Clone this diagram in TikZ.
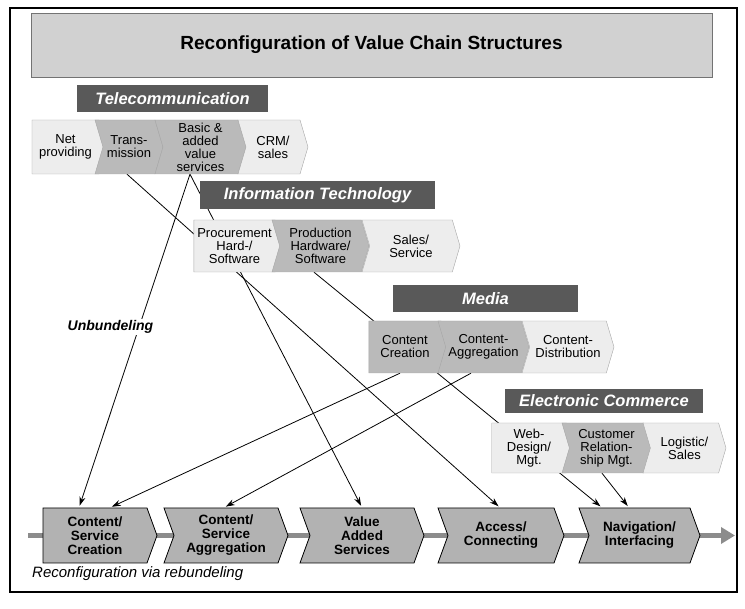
\documentclass[tikz,border=0pt]{standalone}
\usepackage{fontspec}
\setmainfont{Liberation Sans}
\usetikzlibrary{shapes.symbols,arrows.meta,backgrounds}
\tikzset{flow/.style = {draw=black, line width=0.8pt, -{Stealth[length=9pt,width=6pt]}, shorten >=2pt}}
\tikzset{header/.style = {fill=black!65, text=white, inner sep=0, font={\fontsize{16.5}{18}\selectfont\bfseries\itshape}}}
\tikzset{note/.style = {inner sep=1pt, font={\fontsize{15}{17}\selectfont\itshape}}}

\begin{document}
\begin{tikzpicture}[x=1pt,y=-1pt,
    seg/.style={shape=signal, signal to=east, signal from=west,
        signal pointer angle=147, draw=black!35, fill=black!7,
        inner sep=1pt, align=center, font={\fontsize{13}{13}\selectfont}},
    darkseg/.style={seg, fill=black!27},
    stage/.style={shape=signal, signal to=east, signal from=west,
        signal pointer angle=140, draw=black, line width=0.8pt, fill=black!30,
        minimum height=55, inner sep=1pt, align=center,
        font={\fontsize{13.5}{14}\selectfont\bfseries}},
    ]
    \useasboundingbox (0,0) rectangle (745,609);

    % Frame and title
    \draw[line width=1.2pt] (10,8) rectangle (737,592);
    \node[draw=black!55, fill=black!18, minimum width=681, minimum height=64,
        font={\fontsize{19}{22}\selectfont\bfseries}] (title) at (371.5,45)
        {Reconfiguration of Value Chain Structures};

    % Telecommunication
    \node[header, minimum width=191, minimum height=27] (tele) at (172.5,98.5) {Telecommunication};
    \node[seg, signal from=nowhere, minimum width=75, minimum height=54] (net) at (65.5,147) {Net\\providing};
    \node[darkseg, minimum width=68, minimum height=54] (trans) at (129,147) {Trans-\\mission};
    \node[darkseg, minimum width=91, minimum height=54] (basic) at (200.5,147) {Basic \&\\added\\value\\services};
    \node[seg, minimum width=70, minimum height=54] (crm) at (273,147) {CRM/\\sales};

    % Information Technology
    \node[header, minimum width=235, minimum height=28] (it) at (317.5,195) {Information Technology};
    \node[seg, signal from=nowhere, minimum width=89, minimum height=52] (proc) at (234.5,246) {Procurement\\Hard-/\\Software};
    \node[darkseg, minimum width=97, minimum height=52] (prod) at (320.5,246) {Production\\Hardware/\\Software};
    \node[seg, minimum width=98, minimum height=52] (sales) at (411,246) {Sales/\\Service};

    % Media
    \node[header, minimum width=185, minimum height=27] (media) at (485.5,298.5) {Media};
    \node[darkseg, signal from=nowhere, minimum width=80, minimum height=52] (ccre) at (405,347) {Content\\Creation};
    \node[darkseg, minimum width=91, minimum height=52] (cagg) at (483.5,347) {Content-\\Aggregation};
    \node[seg, minimum width=92, minimum height=52] (cdis) at (568,347) {Content-\\Distribution};

    % Electronic Commerce
    \node[header, minimum width=198, minimum height=24] (ec) at (604,401) {Electronic Commerce};
    \node[seg, signal from=nowhere, minimum width=82, minimum height=50] (web) at (529,448) {Web-\\Design/\\Mgt.};
    \node[darkseg, minimum width=89, minimum height=50] (cust) at (606.5,448) {Customer\\Relation-\\ship Mgt.};
    \node[seg, minimum width=83, minimum height=50] (logi) at (684.5,448) {Logistic/\\Sales};

    % Rebundled chain
    \draw[line width=4.5pt, black!45, -{Triangle[length=14pt,width=16pt]}] (28,535.5) -- (735,535.5);
    \node[stage, signal from=nowhere, minimum width=114] (cscre) at (95,535.5) {Content/\\Service\\Creation};
    \node[stage, minimum width=124] (csagg) at (226,535.5) {Content/\\Service\\Aggregation};
    \node[stage, minimum width=124] (vas) at (362,535.5) {Value\\Added\\Services};
    \node[stage, minimum width=126] (acc) at (501,535.5) {Access/\\Connecting};
    \node[stage, minimum width=121] (navi) at (639.5,535.5) {Navigation/\\Interfacing};

    % Labels
    \node[note, font={\fontsize{14}{16}\selectfont\bfseries\itshape}, fill=white] (unb) at (110.5,327) {Unbundeling};
    \node[note, anchor=west] (reb) at (31,574) {Reconfiguration via rebundeling};

    % Arrows
    \begin{scope}[on background layer]
        \draw[flow] ([xshift=-10.5]basic.south) -- ([xshift=-16]cscre.north);
        \draw[flow] ([xshift=-10.5]basic.south) -- (vas.north);
        \draw[flow] ([xshift=-2]trans.south) -- ([xshift=-1]acc.north);
        \draw[flow] ([xshift=-6.5]prod.south) -- ([xshift=-37.5]navi.north);
        \draw[flow] ([xshift=-4.5]cust.south) -- ([xshift=-10.5]navi.north);
        \draw[flow] ([xshift=-5]ccre.south) -- ([xshift=15]cscre.north);
        \draw[flow] ([xshift=-12.5]cagg.south) -- ([xshift=-2]csagg.north);
    \end{scope}
\end{tikzpicture}
\end{document}
